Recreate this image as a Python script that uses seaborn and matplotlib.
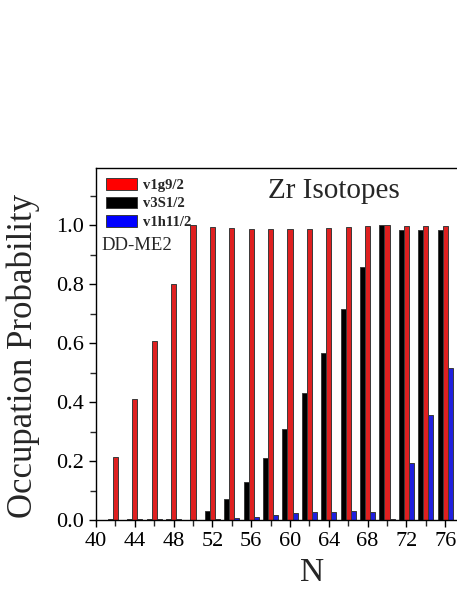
import pandas as pd
import matplotlib
matplotlib.use('Agg')
import matplotlib.pyplot as plt
import seaborn as sns
from matplotlib.patches import Patch
from matplotlib.ticker import MultipleLocator, FixedLocator

# neutron number and occupation probabilities
N = [42, 44, 46, 48, 50, 52, 54, 56, 58, 60, 62, 64, 66, 68, 70, 72, 74, 76, 78]
g92 = [0.214, 0.410, 0.606, 0.800, 1.000, 0.995, 0.990, 0.988, 0.987, 0.986,
       0.988, 0.991, 0.994, 0.997, 1.000, 0.998, 0.998, 0.998, 0.998]
s12 = [0.002, 0.002, 0.002, 0.002, 0.001, 0.031, 0.072, 0.130, 0.210, 0.310,
       0.430, 0.566, 0.715, 0.859, 1.000, 0.983, 0.982, 0.985, 0.985]
h112 = [0.001, 0.002, 0.002, 0.002, 0.001, 0.003, 0.008, 0.012, 0.017, 0.023,
        0.027, 0.029, 0.031, 0.029, 0.003, 0.192, 0.356, 0.514, 0.650]
xticks = [40, 44, 48, 52, 56, 60, 64, 68, 72, 76]
states = ['v3S1/2', 'v1g9/2', 'v1h11/2']  # left to right inside each group
legend_order = ['v1g9/2', 'v3S1/2', 'v1h11/2']
colors = {'v1g9/2': '#ff0000', 'v3S1/2': '#000000', 'v1h11/2': '#0000ff'}

df = pd.DataFrame({
    'N': N * 3,
    'value': s12 + g92 + h112,
    'state': ['v3S1/2'] * len(N) + ['v1g9/2'] * len(N) + ['v1h11/2'] * len(N),
})

sns.set_style('ticks')
plt.rcParams['font.family'] = ['Liberation Serif', 'DejaVu Serif']

fig = plt.figure(figsize=(4.57, 5.91), dpi=100)
ax = fig.add_axes([0.210, 0.120, 0.849, 0.596])

sns.barplot(data=df, x='N', y='value', hue='state', hue_order=states,
            palette=colors, native_scale=True, width=0.79, dodge=True,
            edgecolor='#3a3a3a', linewidth=0.7, legend=False, ax=ax)

ax.set_xlim(40, 80)
ax.set_ylim(0, 1.194)
ax.xaxis.set_major_locator(FixedLocator(xticks))
ax.xaxis.set_minor_locator(MultipleLocator(2))
ax.yaxis.set_major_locator(MultipleLocator(0.2))
ax.yaxis.set_minor_locator(MultipleLocator(0.1))
ax.set_yticklabels([f'{v:.1f}' for v in ax.get_yticks()])
ax.tick_params(which='major', direction='out', length=5, width=1,
               labelsize=16, colors='black')
ax.tick_params(which='minor', direction='out', length=4, width=1)
for s in ax.spines.values():
    s.set_linewidth(1)
    s.set_color('black')

ax.set_xlabel('N', fontsize=24)
ax.set_ylabel('Occupation Probability', fontsize=25)
ax.xaxis.set_label_coords(0.556, -0.105)
ax.yaxis.set_label_coords(-0.145, 0.466)

ax.text(0.443, 0.97, 'Zr Isotopes', transform=ax.transAxes,
        fontsize=21, va='top', ha='left')
ax.text(0.015, 0.78, 'DD-ME2', transform=ax.transAxes,
        fontsize=13.5, va='center', ha='left')

handles = [Patch(facecolor=colors[k], edgecolor='#3a3a3a', linewidth=0.7,
                 label=k) for k in legend_order]
ax.legend(handles=handles, loc='upper left', frameon=False,
          bbox_to_anchor=(0.0, 1.0), prop={'weight': 'bold', 'size': 10.5},
          handlelength=2.1, handleheight=0.85, handletextpad=0.4,
          labelspacing=0.32, borderaxespad=0.3)

fig.savefig('out.png', dpi=100)
